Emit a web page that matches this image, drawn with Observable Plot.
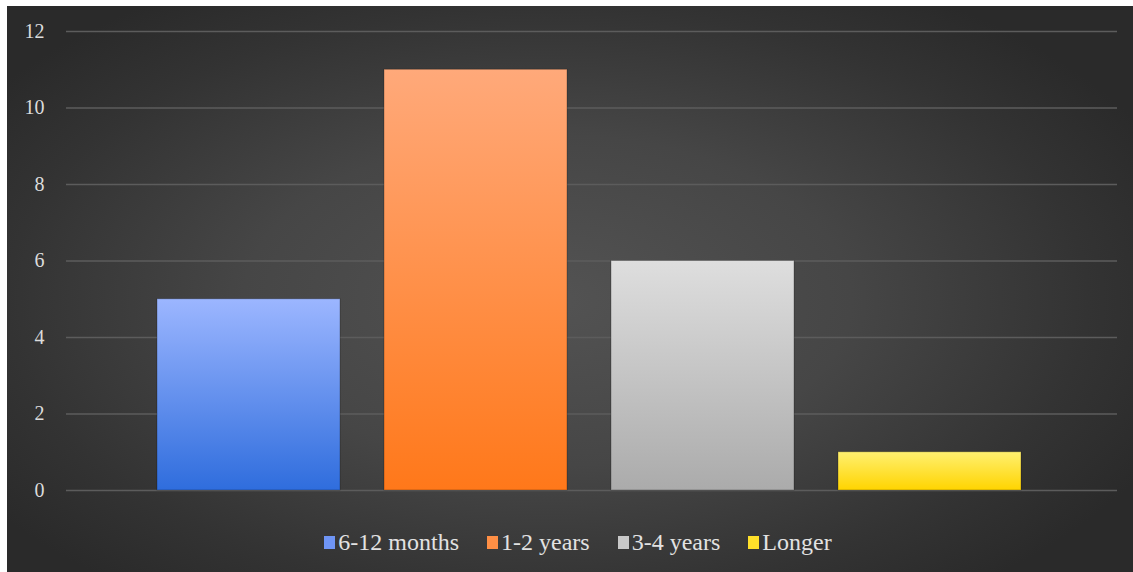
<!DOCTYPE html>
<html>
<head>
<meta charset="utf-8">
<script src="https://cdn.jsdelivr.net/npm/d3@7"></script>
<script src="https://cdn.jsdelivr.net/npm/@observablehq/plot@0.6"></script>
<style>
  html, body { margin: 0; padding: 0; background: #ffffff; }
  #chart {
    position: absolute; left: 7px; top: 6px; width: 1126px; height: 566px;
    background: radial-gradient(ellipse 60% 65% at 48% 52%, #535353 0%, #464646 45%, #333333 80%, #2a2a2a 100%);
    font-family: "Liberation Serif", "Times New Roman", Times, "DejaVu Serif", serif;
  }
  #chart svg text { font-family: "Liberation Serif", "Times New Roman", Times, "DejaVu Serif", serif; }
  #legend {
    display: flex; justify-content: center; align-items: center;
    margin-top: 21px; height: 30px; padding-left: 16px;
    color: #e2e2e2; font-size: 24px;
    font-family: "Liberation Serif", "Times New Roman", Times, "DejaVu Serif", serif;
  }
  .item { display: flex; align-items: center; margin: 0 14px; }
  .sw { width: 11px; height: 13px; margin-right: 3px; }
</style>
</head>
<body>
<svg width="0" height="0" style="position:absolute">
  <defs>
    <linearGradient id="g0" x1="0" y1="0" x2="0" y2="1">
      <stop offset="0" stop-color="#9cb6ff"/><stop offset="1" stop-color="#2f6ddd"/>
    </linearGradient>
    <linearGradient id="g1" x1="0" y1="0" x2="0" y2="1">
      <stop offset="0" stop-color="#ffa97a"/><stop offset="1" stop-color="#ff781a"/>
    </linearGradient>
    <linearGradient id="g2" x1="0" y1="0" x2="0" y2="1">
      <stop offset="0" stop-color="#dedede"/><stop offset="1" stop-color="#ababab"/>
    </linearGradient>
    <linearGradient id="g3" x1="0" y1="0" x2="0" y2="1">
      <stop offset="0" stop-color="#fff070"/><stop offset="1" stop-color="#ffd400"/>
    </linearGradient>
  </defs>
</svg>
<div id="chart"></div>
<script>
const categories = ["6-12 months", "1-2 years", "3-4 years", "Longer"];
const values = [5, 11, 6, 1];
const yTicks = [0, 2, 4, 6, 8, 10, 12];
const gradients = ["url(#g0)", "url(#g1)", "url(#g2)", "url(#g3)"];
const swatchColors = ["#6f95f5", "#ff8f45", "#c8c8c8", "#ffe02a"];

const data = categories.map((c, i) => ({category: c, value: values[i]}));
const serif = "'Liberation Serif', 'Times New Roman', Times, 'DejaVu Serif', serif";

const plot = Plot.plot({
  width: 1126,
  height: 500,
  marginLeft: 59,
  marginRight: 16,
  marginTop: 25,
  marginBottom: 16,
  style: {background: "transparent", fontFamily: serif, fontSize: "20px", color: "#dcdcdc"},
  x: {domain: categories, axis: null, paddingInner: 0.196, paddingOuter: 0.408, align: 0.485},
  y: {domain: [0, 12], ticks: yTicks, label: null},
  color: {domain: categories, range: gradients},
  marks: [
    Plot.gridY(yTicks, {stroke: "#5c5c5c", strokeOpacity: 1, strokeWidth: 1.5}),
    Plot.axisY(yTicks, {tickSize: 0, tickPadding: 22, label: null, fill: "#dcdcdc", fontSize: 20, fontFamily: serif}),
    Plot.barY(data, {x: "category", y: "value", fill: "category", stroke: "rgba(0,0,0,0.25)", strokeWidth: 1})
  ]
});
document.getElementById("chart").appendChild(plot);

const legend = document.createElement("div");
legend.id = "legend";
categories.forEach((c, i) => {
  const item = document.createElement("div");
  item.className = "item";
  const sw = document.createElement("div");
  sw.className = "sw";
  sw.style.background = swatchColors[i];
  const t = document.createElement("span");
  t.textContent = c;
  item.appendChild(sw);
  item.appendChild(t);
  legend.appendChild(item);
});
document.getElementById("chart").appendChild(legend);
</script>
</body>
</html>
